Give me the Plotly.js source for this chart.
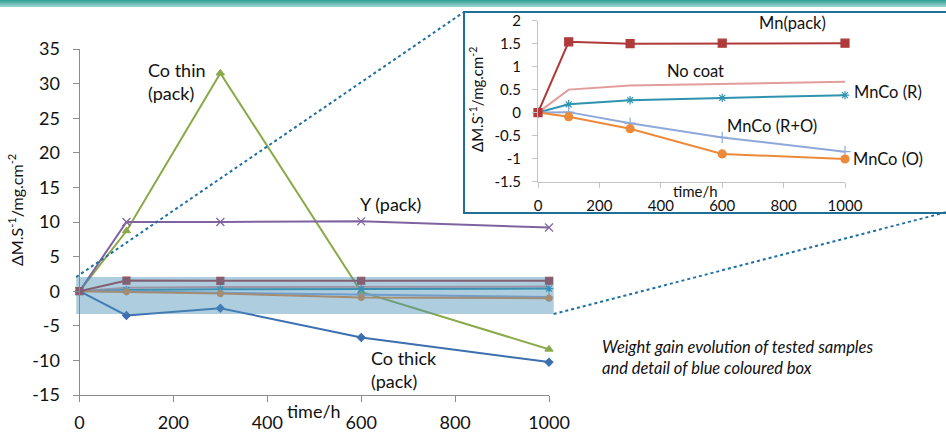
<!DOCTYPE html>
<html>
<head>
<meta charset="utf-8">
<script src="https://cdn.plot.ly/plotly-3.0.1.min.js"></script>
<style>
  html, body { margin:0; padding:0; background:#fff; }
  #wrap { position:relative; width:946px; height:432px; overflow:hidden; }
  #chart { position:absolute; left:0; top:0; width:946px; height:432px; }
  #bar { position:absolute; left:0; top:0; width:946px; height:7px;
         background:linear-gradient(#2f9e95, #9fd8cf); z-index:5; }
</style>
</head>
<body>
<div id="wrap"><div id="chart"></div><div id="bar"></div></div>
<script>
// ---- data ----
const times   = [0, 100, 300, 600, 1000];
const coThin  = [0, 8.7, 31.5, -0.1, -8.4];
const yPack   = [0, 10.0, 10.0, 10.1, 9.2];
const coThick = [0, -3.5, -2.45, -6.7, -10.25];
const mnPack  = [0, 1.54, 1.5, 1.51, 1.51];
const noCoat  = [0, 0.5, 0.59, 0.63, 0.67];
const mnCoR   = [0, 0.18, 0.27, 0.32, 0.38];
const mnCoRO  = [0, 0.01, -0.23, -0.54, -0.85];
const mnCoO   = [0, -0.09, -0.35, -0.9, -1.01];
const xTicks  = [0, 200, 400, 600, 800, 1000];
const yTicksMain  = [-15, -10, -5, 0, 5, 10, 15, 20, 25, 30, 35];
const yLabelsMain = ['-15', '-10', '-5', '0', '5', '10', '15', '20', '25', '30', '35'];
const yTicksInset  = [-1.5, -1, -0.5, 0, 0.5, 1, 1.5, 2];
const yLabelsInset = ['-1.5', '-1', '-0.5', '0', '0.5', '1', '1.5', '2'];

// ---- helpers (pixel -> paper) ----
const W = 946, H = 432;
const px = x => x / W;
const py = y => 1 - y / H;

const C = {
  coThin:'#8AAA4A', yPack:'#7F63A0', coThick:'#3C6FB0', mn:'#B03A3A',
  noCoat:'#E29C9C', mnCoR:'#2E93AE', mnCoRO:'#8EA8DA', mnCoO:'#EC8A3A'
};

function tr(name, y, color, sym, size, axes, mode) {
  return {
    x: times, y: y, name: name, type: 'scatter', mode: mode || 'lines+markers',
    xaxis: axes[0], yaxis: axes[1], cliponaxis: false,
    line: {color: color, width: 2},
    marker: {symbol: sym, size: size, color: color, line: {color: color, width: 1.2}},
    showlegend: false, hoverinfo: 'skip'
  };
}

const M = ['x', 'y'], I = ['x2', 'y2'];
const data = [
  tr('Co thin (pack)', coThin, C.coThin, 'triangle-up', 7, M),
  tr('Y (pack)', yPack, C.yPack, 'x-thin-open', 8, M),
  tr('Co thick (pack)', coThick, C.coThick, 'diamond', 6, M),
  tr('No coat', noCoat, C.noCoat, 'circle', 4, M, 'lines'),
  tr('MnCo (R)', mnCoR, C.mnCoR, 'asterisk-open', 7, M),
  tr('MnCo (R+O)', mnCoRO, C.mnCoRO, 'cross-thin-open', 6, M),
  tr('MnCo (O)', mnCoO, C.mnCoO, 'circle', 6, M),
  tr('Mn(pack)', mnPack, C.mn, 'square', 7, M),
  // inset
  tr('No coat', noCoat, C.noCoat, 'circle', 4, I, 'lines'),
  tr('MnCo (R)', mnCoR, C.mnCoR, 'asterisk-open', 7, I),
  tr('MnCo (R+O)', mnCoRO, C.mnCoRO, 'cross-thin-open', 8, I),
  tr('MnCo (O)', mnCoO, C.mnCoO, 'circle', 8, I),
  tr('Mn(pack)', mnPack, C.mn, 'square', 8, I)
];

const FONT = 'Lato, "Open Sans", sans-serif';
const TXT = '#111';

function axisBase(extra) {
  return Object.assign({
    showline: true, showgrid: false, zeroline: false, ticks: 'outside',
    fixedrange: true
  }, extra);
}

// main chart pixel geometry
const mX0 = 79.5, mX1 = 549, mYtop = 49, mYbot = 395;
// inset geometry
const iX0 = 538, iX1 = 845, iYtop = 20.7, iYbot = 181.5;

const mainPx = v => mX0 + v * (mX1 - mX0) / 1000;
const mainPy = v => mYbot - (v + 15) * (mYbot - mYtop) / 50;

// blue detail box in data units
const boxX = [-7, 1010], boxY = [-3.3, 2.05];
const bL = mainPx(boxX[0]), bR = mainPx(boxX[1]);
const bT = mainPy(boxY[1]), bB = mainPy(boxY[0]);

const ylab = 'ΔM.S<sup>-1</sup>/mg.cm<sup>-2</sup>';

const layout = {
  width: W, height: H, autosize: false,
  margin: {l: 0, r: 0, t: 0, b: 0},
  paper_bgcolor: '#fff', plot_bgcolor: 'rgba(0,0,0,0)',
  font: {family: FONT, color: TXT},
  showlegend: false,
  xaxis: axisBase({
    domain: [px(mX0), px(mX1)], range: [0, 1000], tickvals: xTicks, anchor: 'y',
    linecolor: '#8c8c8c', tickcolor: '#8c8c8c', ticklen: 6,
    tickfont: {family: FONT, size: 18, color: TXT}, ticklabelstandoff: 5
  }),
  yaxis: axisBase({
    domain: [py(mYbot), py(mYtop)], range: [-15, 35], tickvals: yTicksMain, ticktext: yLabelsMain, anchor: 'x',
    linecolor: '#8c8c8c', tickcolor: '#8c8c8c', ticklen: 6,
    tickfont: {family: FONT, size: 18, color: TXT}, ticklabelstandoff: 9
  }),
  xaxis2: axisBase({
    domain: [px(iX0), px(iX1)], range: [0, 1000], tickvals: xTicks, anchor: 'y2',
    linecolor: '#c4c4c4', tickcolor: '#c4c4c4', ticklen: 5,
    tickfont: {family: FONT, size: 15, color: TXT}, ticklabelstandoff: 5
  }),
  yaxis2: axisBase({
    domain: [py(iYbot), py(iYtop)], range: [-1.5, 2], tickvals: yTicksInset, ticktext: yLabelsInset, anchor: 'x2',
    linecolor: '#c4c4c4', tickcolor: '#c4c4c4', ticklen: 5,
    tickfont: {family: FONT, size: 15, color: TXT}, ticklabelstandoff: 8
  }),
  shapes: [
    {type: 'rect', xref: 'paper', yref: 'paper', layer: 'below',
     x0: px(464), x1: px(948), y0: py(213), y1: py(12),
     line: {color: '#1F6F96', width: 2}, fillcolor: '#fff'},
    {type: 'rect', xref: 'paper', yref: 'paper', layer: 'above',
     x0: px(bL), x1: px(bR), y0: py(bB), y1: py(bT),
     line: {width: 0}, fillcolor: 'rgba(75,145,185,0.45)'},
    {type: 'line', xref: 'paper', yref: 'paper', layer: 'above',
     x0: px(bL), y0: py(bT), x1: px(464), y1: py(12),
     line: {color: '#1F6F9F', width: 2, dash: 'dot'}},
    {type: 'line', xref: 'paper', yref: 'paper', layer: 'above',
     x0: px(bR), y0: py(bB), x1: px(947), y1: py(212),
     line: {color: '#1F6F9F', width: 2, dash: 'dot'}}
  ],
  annotations: [
    {text: 'Co thin<br>(pack)', x: px(146), y: py(81), xanchor: 'left', yanchor: 'middle', align: 'left', font: {size: 18}},
    {text: 'Y (pack)', x: px(390), y: py(204), xanchor: 'center', yanchor: 'middle', font: {size: 18}},
    {text: 'Co thick<br>(pack)', x: px(369), y: py(369), xanchor: 'left', yanchor: 'middle', align: 'left', font: {size: 18}},
    {text: 'time/h', x: px(314), y: py(411), xanchor: 'center', yanchor: 'middle', font: {size: 18}},
    {text: ylab, x: px(15), y: py(210), textangle: -90, xanchor: 'center', yanchor: 'middle', font: {size: 16}},
    {text: 'Mn(pack)', x: px(792), y: py(23), xanchor: 'center', yanchor: 'middle', font: {size: 16.5}},
    {text: 'No coat', x: px(695), y: py(71), xanchor: 'center', yanchor: 'middle', font: {size: 16.5}},
    {text: 'MnCo (R)', x: px(888), y: py(92), xanchor: 'center', yanchor: 'middle', font: {size: 16.5}},
    {text: 'MnCo (R+O)', x: px(772), y: py(126), xanchor: 'center', yanchor: 'middle', font: {size: 16.5}},
    {text: 'MnCo (O)', x: px(888), y: py(159), xanchor: 'center', yanchor: 'middle', font: {size: 16.5}},
    {text: 'time/h', x: px(695), y: py(190.5), xanchor: 'center', yanchor: 'middle', font: {size: 15}},
    {text: ylab, x: px(476), y: py(100), textangle: -90, xanchor: 'center', yanchor: 'middle', font: {size: 15}},
    {text: '<i>Weight gain evolution of tested samples<br>and detail of blue coloured box</i>',
     x: px(600), y: py(357), xanchor: 'left', yanchor: 'middle', align: 'left', font: {size: 16.5}}
  ].map(a => Object.assign({xref: 'paper', yref: 'paper', showarrow: false}, a))
};

Plotly.newPlot('chart', data, layout, {staticPlot: true, displayModeBar: false});
</script>
</body>
</html>
